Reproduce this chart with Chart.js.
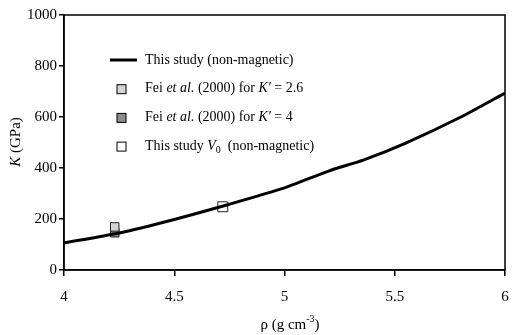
<!DOCTYPE html>
<html>
<head>
<meta charset="utf-8">
<script src="https://cdn.jsdelivr.net/npm/chart.js@4"></script>
<style>
  body { margin: 0; background: #fff; }
  #wrap { width: 513px; height: 335px; }
</style>
</head>
<body>
<div id="wrap"><canvas id="c" width="513" height="335"></canvas></div>
<script>
// curve: this study (non-magnetic)
const rho = [4.0, 4.25, 4.5, 4.75, 5.0, 5.2, 5.36, 5.55, 5.8, 6.0];
const bulkK = [106, 145, 198, 258, 322, 388, 432, 498, 600, 694];

// measured / fitted points
const fei26 = { x: 4.23, y: 169 };
const fei4 = { x: 4.23, y: 146 };
const thisV0 = { x: 4.72, y: 248 };

const xTicks = [4, 4.5, 5, 5.5, 6];
const yTicks = [0, 200, 400, 600, 800, 1000];

const serif = '"Liberation Serif", "Times New Roman", serif';

const legendRows = [
  { kind: 'line', parts: [['This study (non-magnetic)', '']] },
  { kind: 'box', fill: '#d4d4d4', parts: [['Fei ', ''], ['et al.', 'italic'], [' (2000) for ', ''], ["K'", 'italic'], [' = 2.6', '']] },
  { kind: 'box', fill: '#8c8c8c', parts: [['Fei ', ''], ['et al.', 'italic'], [' (2000) for ', ''], ["K'", 'italic'], [' = 4', '']] },
  { kind: 'box', fill: '#ffffff', parts: [['This study ', ''], ['V', 'italic'], ['0', 'sub'], ['  (non-magnetic)', '']] },
];

const decor = {
  id: 'decor',
  afterDraw(chart) {
    const ctx = chart.ctx;
    const a = chart.chartArea;
    ctx.save();
    // box around plot
    ctx.strokeStyle = '#000';
    ctx.lineWidth = 1.5;
    ctx.strokeRect(a.left, a.top, a.right - a.left, a.bottom - a.top);

    // legend
    ctx.textBaseline = 'middle';
    legendRows.forEach((r, i) => {
      const y = 60 + i * 28.7;
      if (r.kind === 'line') {
        ctx.lineWidth = 3;
        ctx.beginPath();
        ctx.moveTo(110, y);
        ctx.lineTo(137, y);
        ctx.stroke();
      } else {
        ctx.fillStyle = r.fill;
        ctx.lineWidth = 1;
        ctx.fillRect(117, y - 4, 9, 9);
        ctx.strokeRect(117, y - 4, 9, 9);
      }
      let x = 145;
      ctx.fillStyle = '#000';
      r.parts.forEach(([t, s]) => {
        if (s === 'sub') {
          ctx.font = '10px ' + serif;
          ctx.fillText(t, x, y + 4);
        } else {
          ctx.font = (s === 'italic' ? 'italic ' : '') + '14px ' + serif;
          ctx.fillText(t, x, y);
        }
        x += ctx.measureText(t).width;
      });
    });

    // y axis title
    ctx.save();
    ctx.translate(16, 142);
    ctx.rotate(-Math.PI / 2);
    ctx.textAlign = 'left';
    ctx.font = 'italic 15px ' + serif;
    let w1 = ctx.measureText('K').width;
    ctx.font = '15px ' + serif;
    let w2 = ctx.measureText(' (GPa)').width;
    let sx = -(w1 + w2) / 2;
    ctx.font = 'italic 15px ' + serif;
    ctx.fillText('K', sx, 0);
    ctx.font = '15px ' + serif;
    ctx.fillText(' (GPa)', sx + w1, 0);
    ctx.restore();

    // x axis title
    ctx.font = '15px ' + serif;
    const p1 = 'ρ (g cm';
    const p3 = ')';
    const sw = ctx.measureText(p1).width;
    ctx.font = '10px ' + serif;
    const supw = ctx.measureText('-3').width;
    ctx.font = '15px ' + serif;
    const tw = sw + supw + ctx.measureText(p3).width;
    let tx = 290 - tw / 2;
    ctx.fillText(p1, tx, 325);
    ctx.font = '10px ' + serif;
    ctx.fillText('-3', tx + sw, 319);
    ctx.font = '15px ' + serif;
    ctx.fillText(p3, tx + sw + supw, 325);
    ctx.restore();
  }
};

new Chart(document.getElementById('c'), {
  type: 'line',
  data: {
    datasets: [
      {
        label: 'This study (non-magnetic)',
        data: rho.map((r, i) => ({ x: r, y: bulkK[i] })),
        borderColor: '#000',
        borderWidth: 3,
        pointRadius: 0,
        tension: 0.2,
        fill: false,
      },
      {
        label: "Fei et al. (2000) for K' = 2.6",
        data: [fei26],
        showLine: false,
        pointStyle: 'rect',
        pointRadius: 6,
        pointBackgroundColor: '#d4d4d4',
        pointBorderColor: '#222',
        pointBorderWidth: 1,
      },
      {
        label: "Fei et al. (2000) for K' = 4",
        data: [fei4],
        showLine: false,
        pointStyle: 'rect',
        pointRadius: 6,
        pointBackgroundColor: '#8c8c8c',
        pointBorderColor: '#222',
        pointBorderWidth: 1,
      },
      {
        label: 'This study V0 (non-magnetic)',
        data: [thisV0],
        showLine: false,
        pointStyle: 'rect',
        pointRadius: 7,
        pointBackgroundColor: '#ffffff',
        pointBorderColor: '#222',
        pointBorderWidth: 1,
      },
    ],
  },
  options: {
    responsive: false,
    animation: false,
    events: [],
    layout: { padding: { top: 15, right: 5, left: 0, bottom: 0 } },
    plugins: { legend: { display: false }, tooltip: { enabled: false } },
    scales: {
      x: {
        type: 'linear',
        min: 4,
        max: 6,
        afterBuildTicks: (s) => { s.ticks = xTicks.map(v => ({ value: v })); },
        afterFit: (s) => { s.height = 65; s.paddingRight = 0; s.paddingLeft = 0; },
        grid: { drawOnChartArea: false, tickLength: 6, color: '#000', lineWidth: 1.5 },
        border: { color: '#000', width: 1.5 },
        ticks: { color: '#000', font: { family: serif, size: 15 }, padding: 12, callback: (v) => String(v) },
      },
      y: {
        min: 0,
        max: 1000,
        afterBuildTicks: (s) => { s.ticks = yTicks.map(v => ({ value: v })); },
        afterFit: (s) => { s.width = 64; s.paddingTop = 0; s.paddingBottom = 0; },
        grid: { drawOnChartArea: false, tickLength: 5, color: '#000', lineWidth: 1.5 },
        border: { color: '#000', width: 1.5 },
        ticks: { color: '#000', font: { family: serif, size: 15 }, padding: 2, callback: (v) => String(v) },
      },
    },
  },
  plugins: [decor],
});
</script>
</body>
</html>
